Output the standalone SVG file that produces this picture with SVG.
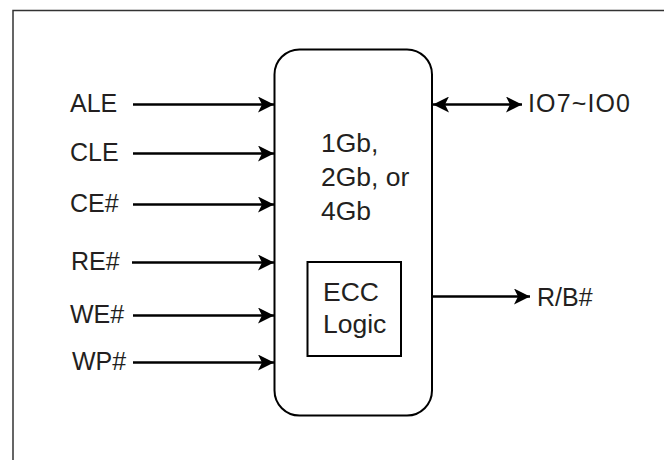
<svg xmlns="http://www.w3.org/2000/svg" width="664" height="460" viewBox="0 0 664 460">
<defs>
<style>
.t{font-family:"Liberation Sans",Arial,sans-serif;font-size:25px;fill:#231f20}
.c{font-size:26.5px}
.w{stroke:#000;stroke-width:2.5;fill:none}
.b{stroke:#000;stroke-width:2;fill:#fff}
</style>
<marker id="ah" viewBox="0 0 16 16" refX="16" refY="8" markerWidth="16" markerHeight="16" markerUnits="userSpaceOnUse" orient="auto-start-reverse">
<path d="M0,0 L16,8 L0,16 L4,8 z" fill="#000"/>
</marker>
</defs>
<rect x="0" y="0" width="664" height="460" fill="#fff"/>
<path d="M13,470 V10.5 H670" fill="none" stroke="#333" stroke-width="1.5"/>
<g id="chip">
<rect class="b" x="274.5" y="49.5" width="157.5" height="366" rx="25" ry="25"/>
<text class="t c" x="321" y="152">1Gb,</text>
<text class="t c" x="321" y="186">2Gb, or</text>
<text class="t c" x="321" y="220">4Gb</text>
</g>
<g id="ecc">
<rect class="b" x="307.5" y="262" width="93.5" height="94"/>
<text class="t c" x="323" y="301">ECC</text>
<text class="t c" x="323" y="333">Logic</text>
</g>
<g id="labels">
<text class="t" x="70" y="112">ALE</text>
<text class="t" x="70" y="161">CLE</text>
<text class="t" x="70" y="212">CE#</text>
<text class="t" x="71" y="270">RE#</text>
<text class="t" x="70" y="323">WE#</text>
<text class="t" x="72" y="370">WP#</text>
<text class="t" x="528" y="112" textLength="102">IO7~IO0</text>
<text class="t" x="537" y="306">R/B#</text>
</g>
<g id="connectors">
<line class="w" x1="133" y1="104.5" x2="274" y2="104.5" marker-end="url(#ah)"/>
<line class="w" x1="133" y1="153.5" x2="274" y2="153.5" marker-end="url(#ah)"/>
<line class="w" x1="133" y1="204.5" x2="274" y2="204.5" marker-end="url(#ah)"/>
<line class="w" x1="132" y1="262.5" x2="274" y2="262.5" marker-end="url(#ah)"/>
<line class="w" x1="133" y1="315.5" x2="274" y2="315.5" marker-end="url(#ah)"/>
<line class="w" x1="133" y1="362.5" x2="274" y2="362.5" marker-end="url(#ah)"/>
<line class="w" x1="433" y1="104.5" x2="522" y2="104.5" marker-start="url(#ah)" marker-end="url(#ah)"/>
<line class="w" x1="432" y1="296.5" x2="530" y2="296.5" marker-end="url(#ah)"/>
</g>
</svg>
